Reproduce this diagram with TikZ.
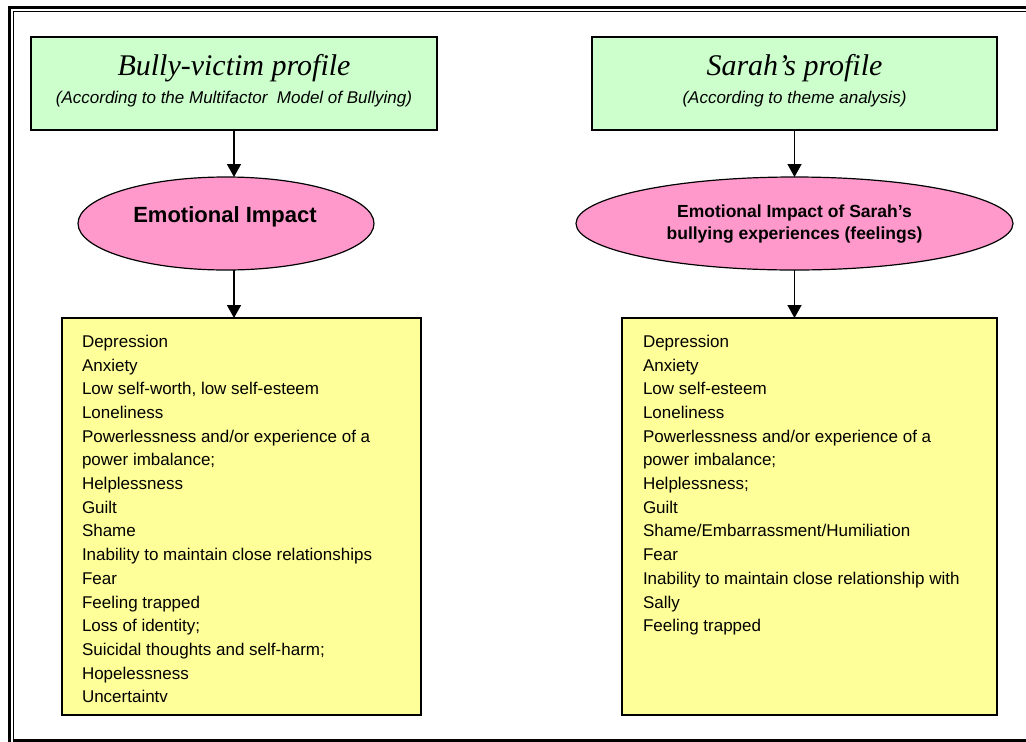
\documentclass[tikz,border=0pt]{standalone}
\usepackage{fontspec}
\setmainfont{Liberation Sans}
\newfontfamily\serifhead{Liberation Serif}
\usetikzlibrary{shapes.geometric,arrows.meta}

\definecolor{headgreen}{HTML}{CCFFCC}
\definecolor{ovalpink}{HTML}{FF99CC}
\definecolor{listyellow}{HTML}{FFFF99}

\begin{document}
\begin{tikzpicture}[x=1pt,y=-1pt,
  every node/.style={inner sep=0pt, outer sep=0pt},
  headbox/.style={draw=black, line width=1.5pt, fill=headgreen, minimum height=93pt},
  oval/.style={ellipse, draw=black, line width=1.2pt, fill=ovalpink, minimum height=93pt},
  listbox/.style={draw=black, line width=1.5pt, fill=listyellow, minimum height=397pt},
  headtitle/.style={anchor=base, font=\serifhead\itshape\fontsize{30}{36}\selectfont},
  headsub/.style={anchor=base, font=\itshape\fontsize{17}{20}\selectfont},
  listtext/.style={anchor=north west, align=left, font=\fontsize{17}{23.7}\selectfont},
  arr/.style={line width=1.5pt, -{Triangle[length=13pt,width=14pt]}}
]
\useasboundingbox (0,0) rectangle (1026,742);
\clip (0,0) rectangle (1026,742);

% page frame: thick outer line, thin inner line with a heavier foot
\draw[line width=3pt] (9.5,7.5) rectangle (1045,760);
\draw[line width=1.2pt] (13.5,11.5) rectangle (1041,740.5);
\draw[line width=3pt] (12.9,740.5) -- (1041,740.5);

% left column
\node[headbox, minimum width=406pt] (g1) at (234,83.5) {};
\node[headtitle] (t1) at (234,75) {Bully-victim profile};
\node[headsub] (s1) at (234,103) {(According to the Multifactor\ \ Model of Bullying)};

\node[oval, minimum width=296pt] (e1) at (226,223.5) {};
\node[anchor=base, font=\bfseries\fontsize{22}{26}\selectfont] (l1) at (225,222) {Emotional Impact};

\node[listbox, minimum width=359pt] (y1) at (241.5,516.5) {};
\node[listtext] (x1) at (82,335) {Depression\\
Anxiety\\
Low self-worth, low self-esteem\\
Loneliness\\
Powerlessness and/or experience of a\\
power imbalance;\\
Helplessness\\
Guilt\\
Shame\\
Inability to maintain close relationships\\
Fear\\
Feeling trapped\\
Loss of identity;\\
Suicidal thoughts and self-harm;\\
Hopelessness\\
Uncertaintv};

\draw[arr] (g1.south) -- (g1.south |- e1.north);
\draw[arr] (g1.south |- e1.south) -- (g1.south |- y1.north);

% right column
\node[headbox, minimum width=405pt] (g2) at (794.5,83.5) {};
\node[headtitle] (t2) at (794.5,75) {Sarah’s profile};
\node[headsub] (s2) at (794.5,103) {(According to theme analysis)};

\node[oval, minimum width=437pt] (e2) at (794.5,223.5) {};
\node[align=center, font=\bfseries\fontsize{17.5}{22}\selectfont] (l2) at (794.5,224.5) {Emotional Impact of Sarah’s\\bullying experiences (feelings)};

\node[listbox, minimum width=375pt] (y2) at (809.5,516.5) {};
\node[listtext] (x2) at (643,335) {Depression\\
Anxiety\\
Low self-esteem\\
Loneliness\\
Powerlessness and/or experience of a\\
power imbalance;\\
Helplessness;\\
Guilt\\
Shame/Embarrassment/Humiliation\\
Fear\\
Inability to maintain close relationship with\\
Sally\\
Feeling trapped};

\draw[arr] (g2.south) -- (g2.south |- e2.north);
\draw[arr] (g2.south |- e2.south) -- (g2.south |- y2.north);
\end{tikzpicture}
\end{document}
